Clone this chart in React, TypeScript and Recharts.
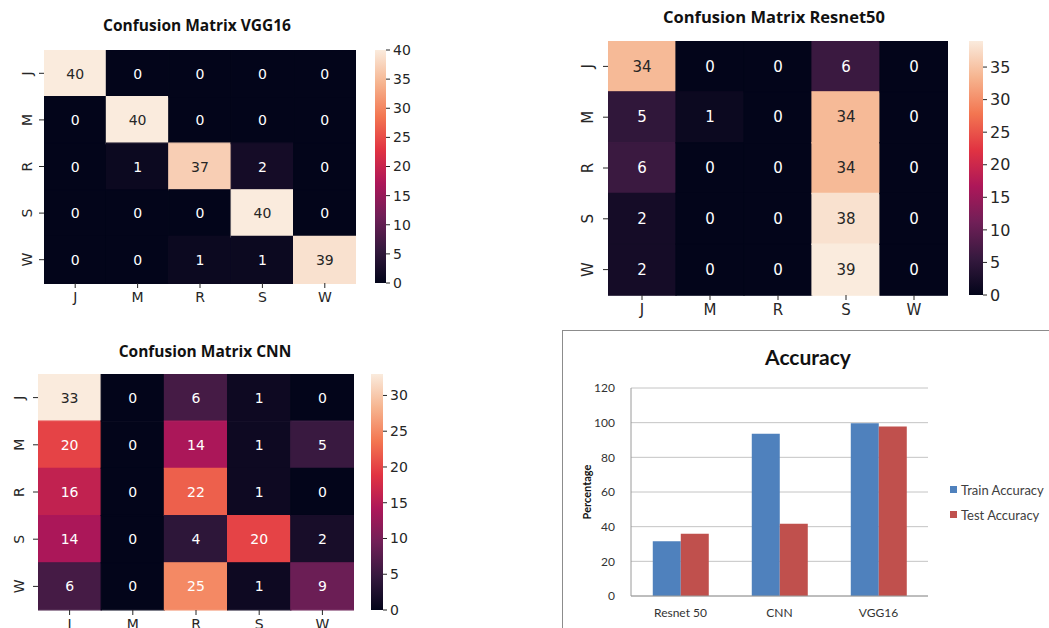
import React from 'react';
import { BarChart, Bar, XAxis, YAxis, Cell, LabelList, CartesianGrid, Legend } from 'recharts';

// ---------- data ----------
const LABELS = ['J', 'M', 'R', 'S', 'W'];

const vggMatrix = [
  [40, 0, 0, 0, 0],
  [0, 40, 0, 0, 0],
  [0, 1, 37, 2, 0],
  [0, 0, 0, 40, 0],
  [0, 0, 1, 1, 39],
];
const resnetMatrix = [
  [34, 0, 0, 6, 0],
  [5, 1, 0, 34, 0],
  [6, 0, 0, 34, 0],
  [2, 0, 0, 38, 0],
  [2, 0, 0, 39, 0],
];
const cnnMatrix = [
  [33, 0, 6, 1, 0],
  [20, 0, 14, 1, 5],
  [16, 0, 22, 1, 0],
  [14, 0, 4, 20, 2],
  [6, 0, 25, 1, 9],
];

const vggTicks = [0, 5, 10, 15, 20, 25, 30, 35, 40];
const resnetTicks = [0, 5, 10, 15, 20, 25, 30, 35];
const cnnTicks = [0, 5, 10, 15, 20, 25, 30];

const accModels = ['Resnet 50', 'CNN', 'VGG16'];
const trainAccuracy = [31.6, 93.6, 99.7];
const testAccuracy = [35.9, 41.7, 97.8];
const accTicks = [0, 20, 40, 60, 80, 100, 120];
const accSeriesOrder = ['train', 'test'];

// ---------- colour map (rocket) ----------
const ROCKET: [number, string][] = [
  [0, '#03051a'],
  [1 / 7, '#35193e'],
  [2 / 7, '#701f57'],
  [3 / 7, '#ad1759'],
  [4 / 7, '#e13342'],
  [5 / 7, '#f37651'],
  [6 / 7, '#f6b48f'],
  [1, '#faebdd'],
];
const hexToRgb = (h: string) => [parseInt(h.slice(1, 3), 16), parseInt(h.slice(3, 5), 16), parseInt(h.slice(5, 7), 16)];
const rocketRgb = (t: number) => {
  const v = Math.max(0, Math.min(1, t));
  for (let i = 0; i < ROCKET.length - 1; i++) {
    const [a, ca] = ROCKET[i];
    const [b, cb] = ROCKET[i + 1];
    if (v <= b) {
      const f = (v - a) / (b - a);
      const A = hexToRgb(ca);
      const B = hexToRgb(cb);
      return A.map((x, k) => Math.round(x + (B[k] - x) * f));
    }
  }
  return hexToRgb(ROCKET[ROCKET.length - 1][1]);
};
const rocket = (t: number) => {
  const [r, g, b] = rocketRgb(t);
  return `rgb(${r},${g},${b})`;
};
const textColor = (t: number) => {
  const lin = rocketRgb(t).map((c) => {
    const s = c / 255;
    return s <= 0.03928 ? s / 12.92 : Math.pow((s + 0.055) / 1.055, 2.4);
  });
  const lum = 0.2126 * lin[0] + 0.7152 * lin[1] + 0.0722 * lin[2];
  return lum > 0.408 ? '#262626' : '#ffffff';
};

const MPL_FONT = '"DejaVu Sans", sans-serif';

// ---------- heatmap ----------
type HeatProps = {
  id: string;
  matrix: number[][];
  max: number;
  ticks: number[];
  plotLeft: number;
  plotTop: number;
  plotW: number;
  plotH: number;
  cbLeft: number;
  cbW: number;
  fontSize: number;
  cbFontSize: number;
  yLabelGap: number;
};

const Heatmap = (p: HeatProps) => {
  const yAxisW = 40;
  const xAxisH = 34;
  const rows = p.matrix.map((r, i) => {
    const o: any = { row: LABELS[i] };
    r.forEach((v, j) => {
      o[`c${j}`] = 1;
      o[`n${j}`] = v;
    });
    return o;
  });
  const cellLabel = (props: any) => {
    const { x, y, width, height, value } = props;
    return (
      <text
        x={Number(x) + Number(width) / 2}
        y={Number(y) + Number(height) / 2}
        textAnchor="middle"
        dominantBaseline="central"
        fontSize={p.fontSize}
        fontFamily={MPL_FONT}
        fill={textColor(value / p.max)}
      >
        {value}
      </text>
    );
  };
  const yTick = (props: any) => {
    const { y, payload } = props;
    const cx = yAxisW - p.yLabelGap;
    return (
      <g>
        <line x1={yAxisW - 5} x2={yAxisW} y1={y} y2={y} stroke="#262626" />
        <text
          x={cx}
          y={y}
          transform={`rotate(-90, ${cx}, ${y})`}
          textAnchor="middle"
          dominantBaseline="central"
          fontSize={p.fontSize}
          fontFamily={MPL_FONT}
          fill="#262626"
        >
          {payload.value}
        </text>
      </g>
    );
  };
  const cbData = [{ k: 'cb', v: p.max }];
  return (
    <>
      <div style={{ position: 'absolute', left: p.plotLeft - yAxisW, top: p.plotTop }}>
        <BarChart
          width={yAxisW + p.plotW}
          height={p.plotH + xAxisH}
          data={rows}
          layout="vertical"
          barCategoryGap={0}
          barGap={0}
          margin={{ top: 0, right: 0, bottom: 0, left: 0 }}
        >
          <XAxis
            type="number"
            domain={[0, 5]}
            ticks={[0.5, 1.5, 2.5, 3.5, 4.5]}
            tickFormatter={(v: number) => LABELS[Math.floor(v)]}
            axisLine={false}
            tickSize={5}
            tickMargin={4}
            height={xAxisH}
            tickLine={{ stroke: '#262626' }}
            tick={{ fontSize: p.fontSize, fontFamily: MPL_FONT, fill: '#262626' }}
            allowDataOverflow
          />
          <YAxis type="category" dataKey="row" width={yAxisW} axisLine={false} tickLine={false} tick={yTick} />
          {LABELS.map((_, j) => (
            <Bar key={j} dataKey={`c${j}`} stackId="s" isAnimationActive={false}>
              {p.matrix.map((r, i) => (
                <Cell key={i} fill={rocket(r[j] / p.max)} stroke={rocket(r[j] / p.max)} strokeWidth={1.2} />
              ))}
              <LabelList dataKey={`n${j}`} content={cellLabel} />
            </Bar>
          ))}
        </BarChart>
      </div>
      <div style={{ position: 'absolute', left: p.cbLeft, top: p.plotTop - 12 }}>
        <BarChart
          width={p.cbW + 50}
          height={p.plotH + 24}
          data={cbData}
          barCategoryGap={0}
          margin={{ top: 12, right: 0, bottom: 12, left: 0 }}
        >
          <defs>
            <linearGradient id={`grad-${p.id}`} x1="0" y1="1" x2="0" y2="0">
              {ROCKET.map(([o, c], i) => (
                <stop key={i} offset={o} stopColor={c} />
              ))}
            </linearGradient>
          </defs>
          <XAxis dataKey="k" hide />
          <YAxis
            orientation="right"
            type="number"
            domain={[0, p.max]}
            ticks={p.ticks}
            width={50}
            axisLine={false}
            tickSize={4}
            tickMargin={3}
            tickLine={{ stroke: '#262626' }}
            tick={{ fontSize: p.cbFontSize, fontFamily: MPL_FONT, fill: '#262626' }}
          />
          <Bar dataKey="v" fill={`url(#grad-${p.id})`} isAnimationActive={false} />
        </BarChart>
      </div>
    </>
  );
};

const Title = ({ text, cx, cy, size }: { text: string; cx: number; cy: number; size: number }) => (
  <div
    style={{
      position: 'absolute',
      left: cx - 200,
      width: 400,
      top: cy - size * 0.7,
      textAlign: 'center',
      fontFamily: '"Open Sans", "Noto Sans", sans-serif',
      fontWeight: 700,
      fontSize: size,
      lineHeight: `${size * 1.4}px`,
      color: '#111',
      whiteSpace: 'nowrap',
    }}
  >
    {text}
  </div>
);

// ---------- accuracy bar chart ----------
const ACC_FONT = 'Lato, "Open Sans", sans-serif';
const accData = accModels.map((m, i) => ({ model: m, train: trainAccuracy[i], test: testAccuracy[i] }));

const accLegend = (props: any) => {
  const items = [...(props.payload || [])].sort(
    (a: any, b: any) => accSeriesOrder.indexOf(a.dataKey) - accSeriesOrder.indexOf(b.dataKey)
  );
  return (
    <div>
      {items.map((it: any, i: number) => (
        <div
          key={i}
          style={{ display: 'flex', alignItems: 'center', height: 25, fontSize: 13, color: '#404040', fontFamily: ACC_FONT, whiteSpace: 'nowrap' }}
        >
          <span style={{ display: 'inline-block', width: 7, height: 7, background: it.color, marginRight: 4 }} />
          {it.value}
        </div>
      ))}
    </div>
  );
};

const AccuracyChart = () => {
  const left = 562;
  const top = 331;
  return (
    <>
      <div
        style={{
          position: 'absolute',
          left: 562,
          top: 330,
          width: 520,
          height: 320,
          border: '1px solid #8c8c8c',
          boxSizing: 'border-box',
        }}
      />
      <div
        style={{
          position: 'absolute',
          left: 562,
          width: 492,
          top: 343,
          textAlign: 'center',
          fontFamily: ACC_FONT,
          fontWeight: 700,
          fontSize: 21,
          lineHeight: '28px',
          color: '#111',
        }}
      >
        Accuracy
      </div>
      <div
        style={{
          position: 'absolute',
          left: 587 - 50,
          top: 492 - 8,
          width: 100,
          height: 16,
          lineHeight: '16px',
          textAlign: 'center',
          transform: 'rotate(-90deg)',
          fontFamily: ACC_FONT,
          fontWeight: 700,
          fontSize: 11,
          color: '#111',
        }}
      >
        Percentage
      </div>
      <div style={{ position: 'absolute', left, top }}>
        <BarChart
          width={487}
          height={297}
          data={accData}
          barCategoryGap="22%"
          barGap={0}
          margin={{ top: 57, right: 121, bottom: 7, left: 0 }}
        >
          <CartesianGrid vertical={false} stroke="#c4c4c4" />
          <XAxis
            dataKey="model"
            axisLine={{ stroke: '#9a9a9a' }}
            tickLine={false}
            tickSize={0}
            tickMargin={12}
            height={25}
            tick={{ fontSize: 12, fontFamily: ACC_FONT, fill: '#333' }}
          />
          <YAxis
            domain={[0, 120]}
            ticks={accTicks}
            width={69}
            axisLine={{ stroke: '#9a9a9a' }}
            tickLine={false}
            tickSize={0}
            tickMargin={16}
            tick={{ fontSize: 12, fontFamily: ACC_FONT, fill: '#333' }}
          />
          <Legend
            layout="vertical"
            align="center"
            verticalAlign="middle"
            content={accLegend}
            wrapperStyle={{ left: 388, top: 146, width: 100 }}
          />
          <Bar dataKey="train" name="Train Accuracy" fill="#4f81bd" isAnimationActive={false} />
          <Bar dataKey="test" name="Test Accuracy" fill="#c0504d" isAnimationActive={false} />
        </BarChart>
      </div>
    </>
  );
};

export default function App() {
  return (
    <div
      style={{
        position: 'absolute',
        left: 0,
        top: 0,
        width: 1049,
        height: 628,
        background: '#fff',
        overflow: 'hidden',
      }}
    >
      <Title text="Confusion Matrix VGG16" cx={197} cy={26} size={15.5} />
      <Heatmap
        id="vgg"
        matrix={vggMatrix}
        max={40}
        ticks={vggTicks}
        plotLeft={44}
        plotTop={50}
        plotW={312}
        plotH={233}
        cbLeft={375}
        cbW={11}
        fontSize={14}
        cbFontSize={14}
        yLabelGap={17}
      />
      <Title text="Confusion Matrix Resnet50" cx={774} cy={17} size={16.5} />
      <Heatmap
        id="resnet"
        matrix={resnetMatrix}
        max={39}
        ticks={resnetTicks}
        plotLeft={608}
        plotTop={41}
        plotW={340}
        plotH={254}
        cbLeft={969}
        cbW={14}
        fontSize={15}
        cbFontSize={16}
        yLabelGap={20}
      />
      <Title text="Confusion Matrix CNN" cx={205} cy={352} size={15.5} />
      <Heatmap
        id="cnn"
        matrix={cnnMatrix}
        max={33}
        ticks={cnnTicks}
        plotLeft={38}
        plotTop={374}
        plotW={316}
        plotH={236}
        cbLeft={371}
        cbW={12}
        fontSize={14}
        cbFontSize={14}
        yLabelGap={19}
      />
      <AccuracyChart />
    </div>
  );
}
